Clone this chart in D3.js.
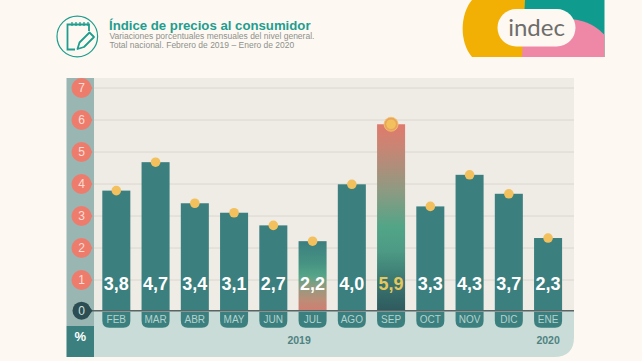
<!DOCTYPE html>
<html>
<head>
<meta charset="utf-8">
<script src="https://cdn.jsdelivr.net/npm/d3@7"></script>
<style>
  html, body { margin: 0; padding: 0; background: #fdf9f2; }
  svg { display: block; }
  text { font-family: "Liberation Sans", Arial, sans-serif; }
</style>
</head>
<body>
<div id="chart"></div>
<script>
const months = ["FEB", "MAR", "ABR", "MAY", "JUN", "JUL", "AGO", "SEP", "OCT", "NOV", "DIC", "ENE"];
const values = [3.8, 4.7, 3.4, 3.1, 2.7, 2.2, 4.0, 5.9, 3.3, 4.3, 3.7, 2.3];
const yTicks = [0, 1, 2, 3, 4, 5, 6, 7];
const years = [{ label: "2019", month: "JUL", dx: -13.5 }, { label: "2020", month: "ENE", dx: 0 }];
const title = "Índice de precios al consumidor";
const subtitle = ["Variaciones porcentuales mensuales del nivel general.", "Total nacional. Febrero de 2019 – Enero de 2020"];

const width = 642, height = 361;
const teal = "#3b7f7f";
const fmt = d => d.toFixed(1).replace(".", ",");

const svg = d3.select("#chart").append("svg")
    .attr("width", width)
    .attr("height", height);

// the printed ticks don't line up exactly with the bars in the original, so two scales
const y = d3.scaleLinear().domain([0, 7]).range([310.7, 89.5]);
const yGrid = d3.scaleLinear().domain([1, 7]).range([280, 88]);
const x = d3.scaleBand().domain(months).range([96.7, 567.7]).paddingInner(0.286).paddingOuter(0.143);
const tickY = d => d === 0 ? y(0) : yGrid(d);

// Gradients for the two highlighted bars
const defs = svg.append("defs");
function gradient(id, stops) {
    const g = defs.append("linearGradient").attr("id", id)
        .attr("x1", 0).attr("x2", 0).attr("y1", 0).attr("y2", 1);
    g.selectAll("stop").data(stops).join("stop")
        .attr("offset", d => d[0])
        .attr("stop-color", d => d[1]);
}
gradient("gradSep", [[0, "#e07a6c"], [0.12, "#c98574"], [0.35, "#8f9a82"], [0.55, "#52a587"], [0.68, "#4d9a85"], [0.85, "#39746f"], [1, "#2f5a5e"]]);
gradient("gradJul", [[0, "#3b7f7f"], [0.3, "#459182"], [0.5, "#55a588"], [0.65, "#8f9c80"], [0.85, "#bd8c77"], [1, "#cf7f70"]]);

// Panel
const panelL = 94, panelR = 574, panelT = 78, panelB = 357, r = 20;
svg.append("rect")
    .attr("x", panelL).attr("y", panelT)
    .attr("width", panelR - panelL).attr("height", y(0) - panelT)
    .attr("fill", "#efebe5");
svg.append("path")
    .attr("d", `M${panelL},${y(0)}H${panelR}V${panelB - r}Q${panelR},${panelB} ${panelR - r},${panelB}H${panelL}Z`)
    .attr("fill", "#c9dcd7");
svg.append("rect")
    .attr("x", 66.5).attr("y", panelT)
    .attr("width", 27.5).attr("height", 326 - panelT)
    .attr("fill", "#9ab6b2");
svg.append("rect")
    .attr("x", 66.5).attr("y", 326)
    .attr("width", 27.5).attr("height", panelB - 326)
    .attr("fill", teal);
svg.append("text")
    .attr("x", 80.2).attr("y", 341)
    .attr("text-anchor", "middle")
    .attr("font-size", 13).attr("font-weight", "bold")
    .attr("fill", "#fff")
    .text("%");

// Grid
svg.append("g").selectAll("line")
    .data(yTicks.filter(d => d > 0))
    .join("line")
    .attr("x1", panelL).attr("x2", panelR)
    .attr("y1", d => tickY(d)).attr("y2", d => tickY(d))
    .attr("stroke", "#dbd7d0").attr("stroke-width", 1);

// Bars
svg.append("g").selectAll("rect")
    .data(months)
    .join("rect")
    .attr("x", d => x(d))
    .attr("y", (d, i) => y(values[i]))
    .attr("width", x.bandwidth())
    .attr("height", (d, i) => y(0) - y(values[i]))
    .attr("fill", d => d === "SEP" ? "url(#gradSep)" : d === "JUL" ? "url(#gradJul)" : teal);

// Baseline
svg.append("line")
    .attr("x1", 80).attr("x2", panelR)
    .attr("y1", y(0)).attr("y2", y(0))
    .attr("stroke", "#5a6464").attr("stroke-width", 1.4);

// Month tabs
const tabs = svg.append("g").selectAll("g")
    .data(months)
    .join("g")
    .attr("transform", d => `translate(${x(d)},${y(0) + 1})`);
tabs.append("path")
    .attr("d", () => {
        const w = x.bandwidth(), h = 16, c = 7;
        return `M0,0H${w}V${h - c}Q${w},${h} ${w - c},${h}H${c}Q0,${h} 0,${h - c}Z`;
    })
    .attr("fill", teal);
tabs.append("text")
    .attr("x", x.bandwidth() / 2).attr("y", 11.5)
    .attr("text-anchor", "middle")
    .attr("font-size", 10)
    .attr("fill", "#b5d3ce")
    .text(d => d);

// Value labels
svg.append("g").selectAll("text")
    .data(months)
    .join("text")
    .attr("x", d => x(d) + x.bandwidth() / 2)
    .attr("y", 289.5)
    .attr("text-anchor", "middle")
    .attr("font-size", 18).attr("font-weight", "bold")
    .attr("fill", d => d === "SEP" ? "#e6c75e" : "#fff")
    .text((d, i) => fmt(values[i]));

// Dots on top of each bar
const dots = svg.append("g").selectAll("g")
    .data(months)
    .join("g")
    .attr("transform", (d, i) => `translate(${x(d) + x.bandwidth() / 2},${y(values[i])})`);
dots.filter(d => d === "SEP").append("circle")
    .attr("r", 7)
    .attr("fill", "#e9a55f")
    .attr("stroke", "#f5c566").attr("stroke-width", 0.8);
dots.append("circle")
    .attr("r", 4.8)
    .attr("fill", "#f2c05c");

// Y axis pins
const pins = svg.append("g").selectAll("g")
    .data(yTicks)
    .join("g")
    .attr("transform", d => `translate(81.5,${tickY(d)})`);
pins.append("path")
    .attr("d", "M5,-8 L11,0 L5,8 Z")
    .attr("fill", d => d === 0 ? "#2c4d53" : "#ee7c6d");
pins.append("circle")
    .attr("r", d => d === 0 ? 9 : 10)
    .attr("fill", d => d === 0 ? "#2c4d53" : "#ee7c6d");
pins.append("text")
    .attr("y", 4.2)
    .attr("text-anchor", "middle")
    .attr("font-size", 12)
    .attr("fill", d => d === 0 ? "#cfe0dc" : "#fbdcd4")
    .text(d => d);

// Years
svg.append("g").selectAll("text")
    .data(years)
    .join("text")
    .attr("x", d => x(d.month) + x.bandwidth() / 2 + d.dx)
    .attr("y", 344)
    .attr("text-anchor", "middle")
    .attr("font-size", 10.5).attr("font-weight", "bold")
    .attr("fill", "#4f8382")
    .text(d => d.label);

// Header
svg.append("text")
    .attr("x", 109).attr("y", 29.5)
    .attr("font-size", 13.2).attr("font-weight", "bold")
    .attr("fill", "#1f9d8f")
    .text(title);
svg.append("g").selectAll("text")
    .data(subtitle)
    .join("text")
    .attr("x", 109.5)
    .attr("y", (d, i) => 39 + i * 9)
    .attr("font-size", 8.5)
    .attr("fill", "#8e908c")
    .text(d => d);

// Notepad icon
const icon = svg.append("g")
    .attr("fill", "none")
    .attr("stroke", "#1f9d8f");
icon.append("circle").attr("cx", 77.3).attr("cy", 36.5).attr("r", 20.3).attr("stroke-width", 1.2);
icon.append("path").attr("stroke-width", 1.8)
    .attr("d", "M75,49.5H67.5V24.5H89V31");
icon.append("path").attr("stroke-width", 1.3)
    .attr("d", "M72,22V26M76,22V26M80,22V26M84,22V26M88,22V26");
icon.append("path").attr("stroke-width", 1.8).attr("stroke-linejoin", "round")
    .attr("d", "M77.5,49L79.5,42.5L89.5,32.5L94,37L84,47Z");

// Logo
const logo = svg.append("g");
logo.append("clipPath").attr("id", "logoClip")
    .append("rect").attr("x", 440).attr("y", 0).attr("width", 164.5).attr("height", 57);
const logoShapes = logo.append("g").attr("clip-path", "url(#logoClip)");
logoShapes.append("rect").attr("x", 500).attr("y", 0).attr("width", 105).attr("height", 57).attr("fill", "#0f9b8e");
logoShapes.append("circle").attr("cx", 568).attr("cy", 69).attr("r", 50).attr("fill", "#ef87a7");
logoShapes.append("rect").attr("x", 522).attr("y", 40).attr("width", 60).attr("height", 17).attr("fill", "#ef87a7");
logoShapes.append("path")
    .attr("d", "M525,0H472C460,14 459,42 472,57H522Z")
    .attr("fill", "#f2b005");
logo.append("rect")
    .attr("x", 497.5).attr("y", 9).attr("width", 78).attr("height", 37.5).attr("rx", 18.7)
    .attr("fill", "#fdf9f2");
logo.append("text")
    .attr("x", 536.5).attr("y", 36)
    .attr("text-anchor", "middle")
    .attr("font-size", 24)
    .style("font-family", "Lato, sans-serif")
    .attr("fill", "#6f6d6b")
    .text("indec");
</script>
</body>
</html>
